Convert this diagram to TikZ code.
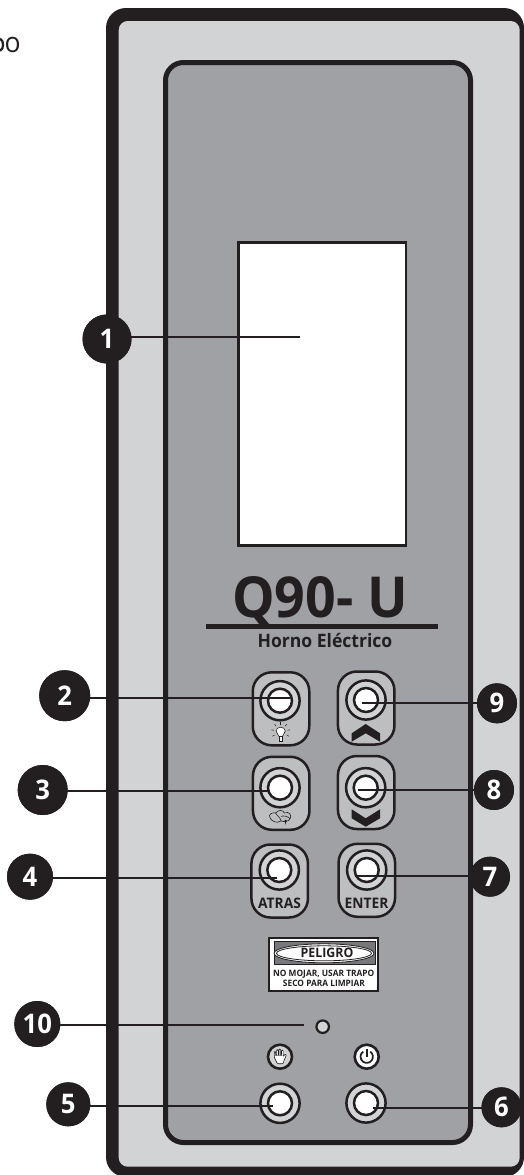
\documentclass[tikz,border=0pt]{standalone}
\usepackage{fontspec}
\setmainfont{Open Sans}[FakeStretch=0.95]
\usetikzlibrary{shapes.geometric}
\definecolor{ink}{HTML}{231F20}
\definecolor{frameface}{HTML}{D1D3D4}
\definecolor{panelface}{HTML}{9FA1A4}
\definecolor{btnface}{HTML}{BCBEC0}
\definecolor{bandface}{HTML}{77787B}
\tikzset{
  btn/.style={draw=ink,fill=btnface,line width=2.5pt,rectangle,rounded corners=19pt,inner sep=0pt,minimum width=56.5pt,minimum height=73pt},
  ringout/.style={circle,draw=ink,fill=frameface,line width=2.5pt,inner sep=0pt,minimum size=39.2pt},
  ringin/.style={circle,draw=ink,fill=white,line width=2.5pt,inner sep=0pt,minimum size=24pt},
  badge/.style={circle,fill=ink,text=white,inner sep=0pt,font=\fontsize{27}{27}\selectfont\bfseries},
  callout/.style={draw=ink,line width=1.8pt},
  btnlabel/.style={text=ink,inner sep=0pt,font=\fontsize{14.5}{15}\selectfont\bfseries},
  icon/.style={circle,draw=ink,line width=2.6pt,inner sep=0pt,minimum size=24pt},
  thinline/.style={draw=ink,line width=.6pt}
}
\begin{document}
\begin{tikzpicture}[x=1pt,y=-1pt]
  \useasboundingbox (0,0) rectangle (523,1175);
  \node[anchor=base east,inner sep=0pt,text=ink,font=\fontsize{28}{28}\selectfont] (cutword) at (21,52) {o};
  \draw[ink,line width=2.2pt] (0,38.5) .. controls (2.6,40) and (3,42.5) .. (3,44.8) .. controls (3,47) and (2.6,49.5) .. (0,51);
  \fill[ink,rounded corners=20pt] (106,8) rectangle (524,1177);
  \fill[frameface,rounded corners=9pt] (118.7,21) rectangle (519.7,1166.7);
  \draw[ink,fill=panelface,line width=5pt,rounded corners=18pt] (165.5,62.5) rectangle (470.5,1142.5);
  \node[draw=ink,fill=white,line width=2.5pt,inner sep=0pt,minimum width=167.5pt,minimum height=303pt] (screen) at (322.2,393.8) {};

  \node[anchor=base,inner sep=0pt,text=ink,font=\fontsize{56.5}{57}\selectfont\bfseries] (model) at (320,617) {Q90- U};
  \node[fill=ink,inner sep=0pt,minimum width=231.5pt,minimum height=5pt] (rule) at (322.2,626) {};
  \node[anchor=base,inner sep=0pt,text=ink,font=\fontsize{18.5}{19}\selectfont\bfseries] (kind) at (325,647) {Horno Eléctrico};

  \foreach \id/\x/\y in {2/281/708.8,9/366.2/708,3/281.2/793.3,8/366.2/792.5,4/279.7/881,7/366.8/880.3}
    \node[btn] (btn\id) at (\x,\y) {};
  \foreach \id/\x/\y in {2/280/700.7,9/366/700,3/280/787.7,8/365.7/787.7,4/279.3/870,7/366.7/870,5/280/1103.3,6/366/1103}{
    \node[ringout] (ring\id) at (\x,\y) {};
    \node[ringin] (eye\id) at (\x,\y) {};
  }
  \node[btnlabel,anchor=base] (atras) at (279.5,908) {ATRAS};
  \node[btnlabel,anchor=base] (enter) at (366.5,908) {ENTER};

  \fill[ink] (351.7,741.7) -- (351.7,733.3) -- (365.7,724) -- (380,733.3) -- (380,741.7) -- (365.7,733.3) -- cycle;
  \fill[ink] (351.7,809.3) -- (365.7,818.3) -- (380,809.3) -- (380,818.3) -- (365.7,826.7) -- (351.7,818.3) -- cycle;

  \coordinate (bulb) at (280.7,733);
  \begin{scope}[shift={(bulb)},x=1pt,y=1pt]
    \foreach \a in {-30,10,50,90,130,170,210}
      \draw[ink,line width=.5pt] ([shift={(0,1.5)}]\a:7) -- ([shift={(0,1.5)}]\a:9.5);
    \draw[thinline,fill=white] (-1.6,-3.6) .. controls (-2,-1) and (-4.6,-.5) .. (-4.6,2) .. controls (-4.6,7) and (4.6,7) .. (4.6,2) .. controls (4.6,-.5) and (2,-1) .. (1.6,-3.6) -- cycle;
    \draw[thinline,fill=white] (-1.6,-3.6) rectangle (1.6,-8);
  \end{scope}

  \coordinate (cloud) at (280,817.5);
  \begin{scope}[shift={(cloud)},x=1.12pt,y=1.12pt]
    \draw[thinline] (-9,0) .. controls (-11,3) and (-6,5) .. (-4,4) .. controls (-2,7) and (3,7) .. (4,4) .. controls (8,6) and (11,2) .. (9,-1) .. controls (8,-4) and (3,-4) .. (1,-3) .. controls (-3,-6) and (-8,-3) .. (-9,0) -- cycle;
    \draw[thinline] (-4,4) .. controls (-3,1) and (0,1) .. (1,-3);
    \draw[thinline] (1,1) .. controls (3,2) and (7,1) .. (9,-1);
    \fill[ink] (4,-2) -- (6,-2) -- (5,-6.5) -- cycle;
  \end{scope}

  \node[draw=ink,fill=white,line width=2pt,inner sep=0pt,minimum width=109pt,minimum height=53.5pt] (sign) at (323.8,964.3) {};
  \node[draw=ink,fill=bandface,line width=1pt,inner sep=0pt,minimum width=101pt,minimum height=23pt] (band) at (324.5,953.3) {};
  \node[ellipse,draw=ink,fill=white,line width=.8pt,inner sep=0pt,minimum width=100pt,minimum height=19pt] (oval) at (324,953.3) {};
  \node[ellipse,draw=ink,fill=white,line width=.8pt,inner sep=0pt,minimum width=95pt,minimum height=15pt] (ovalin) at (324,953.3) {};
  \node[anchor=base,inner sep=0pt,text=ink,font=\fontsize{13}{14}\selectfont\bfseries] (danger) at (327,957.6) {PELIGRO};
  \node[anchor=base,inner sep=0pt,text=ink,font=\fontsize{8.8}{9}\selectfont\bfseries] (warnone) at (323.7,976.7) {NO MOJAR, USAR TRAPO};
  \node[anchor=base,inner sep=0pt,text=ink,font=\fontsize{8.8}{9}\selectfont\bfseries] (warntwo) at (324,986) {SECO PARA LIMPIAR};

  \node[circle,draw=ink,fill=frameface,line width=2.2pt,inner sep=0pt,minimum size=12.5pt] (led) at (322.7,1026.7) {};
  \node[icon,fill=frameface] (stopsym) at (280,1056.7) {};
  \node[icon,fill=white] (powersym) at (366.7,1056.7) {};

  \begin{scope}[shift={(stopsym)},x=1pt,y=1pt]
    \draw[thinline,fill=white,rounded corners=.8pt] (-2.6,-7) -- (-5.6,-1) -- (-5.6,5) -- (-4.4,5) -- (-4.4,1.5) -- (-3.4,1.5) -- (-3.4,7) -- (-1.9,7) -- (-1.9,1.5) -- (-1,1.5) -- (-1,7.6) -- (.6,7.6) -- (.6,1.5) -- (1.5,1.5) -- (1.5,6.6) -- (3.1,6.6) -- (3.1,0) -- (5,2.6) -- (6.4,1.8) -- (4,-4) -- (3,-7) -- cycle;
  \end{scope}
  \begin{scope}[shift={(powersym)},x=1pt,y=1pt]
    \draw[ink,line width=1.7pt] (55:6.2) arc[start angle=55,end angle=-235,radius=6.2pt];
    \draw[ink,line width=1.7pt] (0,7.5) -- (0,-.5);
  \end{scope}

  \foreach \n/\x/\y/\d/\ex/\ey in {1/107/339/49/300/337,2/64.7/695.7/51/290/698,3/42.7/790/50/268/791.3,4/30/876.7/46/276.7/877.7,5/68.3/1104.3/44/273/1105.7,6/501.5/1107.3/40/373/1107.7,7/490/876.7/40/355/876,8/494/790/40/358/790,9/497/703.3/40/361.7/703.3,10/37.3/1024/46/304/1025}{
    \node[badge,minimum size=\d pt] (num\n) at (\x,\y) {\n};
    \coordinate (end\n) at (\ex,\ey);
    \draw[callout] (end\n -| num\n.center) -- (end\n);
    \node[badge,minimum size=\d pt] at (num\n) {\n};
  }
\end{tikzpicture}
\end{document}
